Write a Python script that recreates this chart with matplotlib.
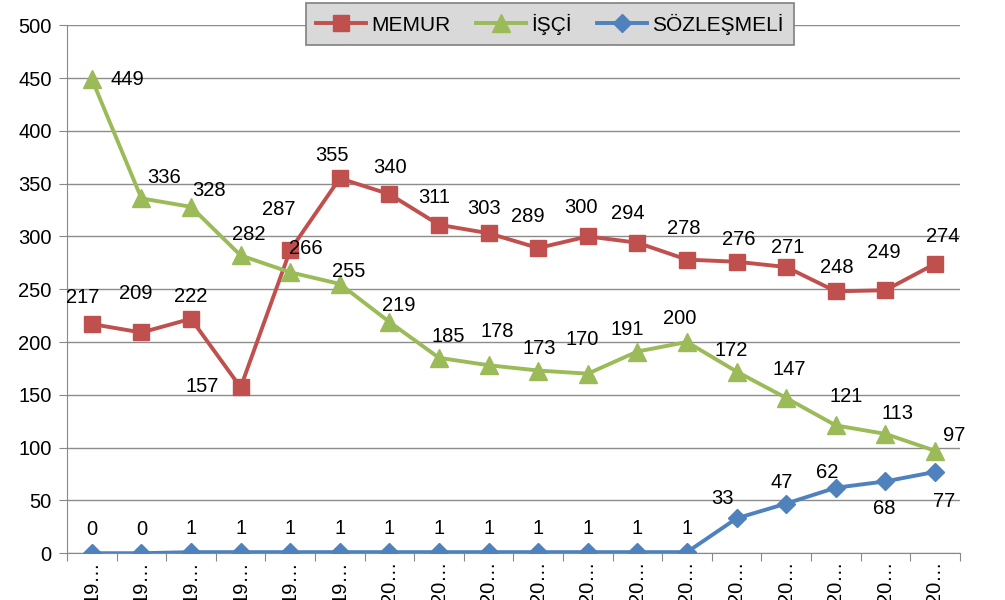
import matplotlib.pyplot as plt
from matplotlib.ticker import FixedLocator, NullFormatter

plt.rcParams['font.family'] = ['Liberation Sans', 'DejaVu Sans']

labels = ["19…"] * 6 + ["20…"] * 12
memur = [217, 209, 222, 157, 287, 355, 340, 311, 303, 289, 300, 294, 278, 276, 271, 248, 249, 274]
isci = [449, 336, 328, 282, 266, 255, 219, 185, 178, 173, 170, 191, 200, 172, 147, 121, 113, 97]
sozlesmeli = [0, 0, 1, 1, 1, 1, 1, 1, 1, 1, 1, 1, 1, 33, 47, 62, 68, 77]

# label offsets in pixels (dx, dy up)
memur_off = [(-9, 27), (-6, 39), (0, 22), (-38, 1), (-11, 41), (-8, 23), (1, 27), (-5, 27),
             (-5, 25), (-10, 32), (-7, 29), (-10, 29), (-3, 31), (2, 22), (2, 20), (1, 24),
             (-2, 38), (8, 27)]
isci_off = [(36, 0), (23, 21), (18, 16), (8, 21), (16, 24), (9, 12), (9, 16), (9, 21),
            (9, 34), (1, 22), (-6, 34), (-10, 22), (-7, 24), (-5, 21), (3, 28), (10, 29),
            (12, 20), (19, 15)]
soz_off = [(0, 24)] * 13 + [(-14, 20), (-4, 21), (-9, 15), (-1, -27), (9, -30)]

fig = plt.figure(figsize=(10.05, 6), dpi=100)
ax = fig.add_axes([0.0667, 0.078, 0.8883, 0.880])

x = range(len(labels))
series = [
    ("MEMUR", memur, "#C0504D", "s", 12, memur_off),
    ("İŞÇİ", isci, "#9BBB59", "^", 13, isci_off),
    ("SÖZLEŞMELİ", sozlesmeli, "#4F81BD", "D", 9, soz_off),
]
for name, vals, col, mk, ms, offs in series:
    ax.plot(x, vals, color=col, marker=mk, markersize=ms, linewidth=2.8,
            label=name, zorder=3)
    for i, v in enumerate(vals):
        ax.annotate(str(v), (i, v), xytext=offs[i], textcoords='offset pixels',
                    ha='center', va='center', fontsize=14.5, color='black', zorder=4)

ax.set_ylim(0, 500)
ax.set_yticks(range(0, 501, 50))
ax.set_xlim(-0.5, len(labels) - 0.5)
ax.xaxis.set_major_locator(FixedLocator([i - 0.5 for i in range(len(labels) + 1)]))
ax.xaxis.set_major_formatter(NullFormatter())
ax.set_xticks(list(x), minor=True)
ax.set_xticklabels(labels, minor=True, rotation=90, fontsize=14.5, va='top')
ax.tick_params(axis='x', which='minor', length=0, pad=5)
ax.tick_params(axis='x', which='major', length=6, color='#888888', direction='out')
ax.tick_params(axis='y', length=6, color='#888888', labelsize=14.5, pad=5)

ax.grid(axis='y', color='#8c8c8c', linewidth=1)
ax.set_axisbelow(True)
for s in ['top', 'right']:
    ax.spines[s].set_visible(False)
for s in ['left', 'bottom']:
    ax.spines[s].set_color('#888888')

leg = fig.legend(loc='center', bbox_to_anchor=(0.547, 0.96), ncol=3, fontsize=15,
                 frameon=True, fancybox=False, edgecolor='#808080',
                 facecolor='#d9d9d9', handlelength=2.4, columnspacing=1.2,
                 handletextpad=0.25, borderpad=0.5)
leg.get_frame().set_alpha(1)
leg.get_frame().set_linewidth(1.2)

fig.savefig("out.png", dpi=100)
